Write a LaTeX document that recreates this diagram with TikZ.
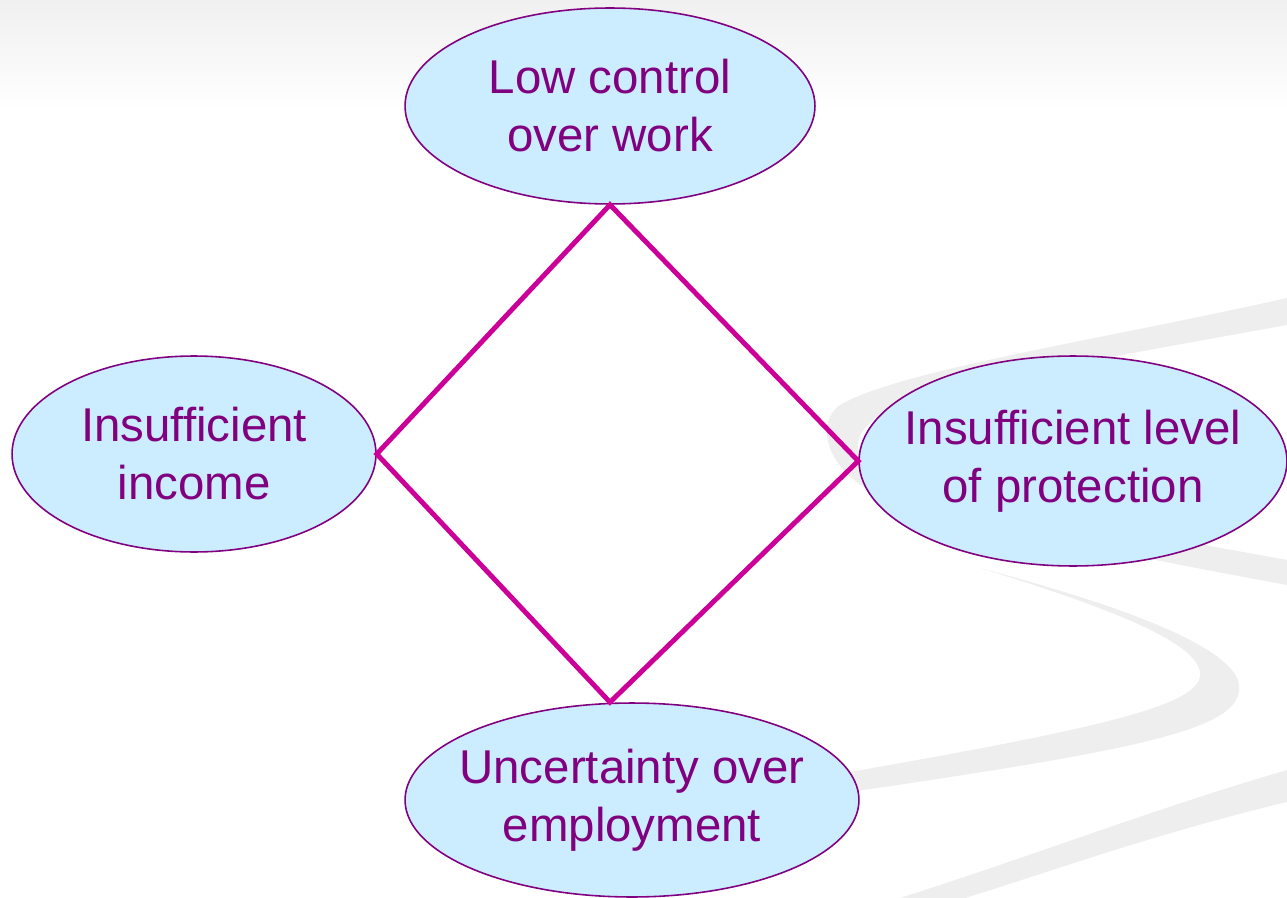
\documentclass[tikz,border=0pt]{standalone}
\usepackage{fontspec}
\setmainfont{Liberation Sans}
\usetikzlibrary{shapes.geometric}
\definecolor{bubblefill}{RGB}{204,236,255}
\definecolor{bubbleline}{RGB}{128,0,128}
\definecolor{diamondline}{RGB}{204,0,153}
\tikzset{
  bubble/.style={ellipse, draw=bubbleline, line width=0.9pt, fill=bubblefill,
    text=bubbleline, inner xsep=-1.4cm, inner ysep=-0.7cm, align=center,
    font=\fontsize{27}{33}\selectfont},
  swoosh/.style={fill=gray!13, draw=none}
}
\begin{document}
\begin{tikzpicture}[x=0.02cm, y=-0.02cm]
      \useasboundingbox (0,0) rectangle (1287,898);
      \shade[top color=gray!12, bottom color=white] (0,0) rectangle (1287,110);
      \fill[swoosh] (1287,298) .. controls (1100,340) and (900,370) .. (840,405)
        .. controls (812,425) and (830,475) .. (880,495)
        .. controls (1000,530) and (1150,560) .. (1287,585) -- (1287,560)
        .. controls (1150,535) and (950,500) .. (870,465)
        .. controls (845,450) and (860,420) .. (900,405)
        .. controls (1000,375) and (1150,350) .. (1287,325) -- cycle;
      \fill[swoosh] (980,568) .. controls (1100,600) and (1222,640) .. (1238,680)
        .. controls (1252,728) and (1150,748) .. (850,792) -- (850,772)
        .. controls (1100,728) and (1205,705) .. (1200,672)
        .. controls (1195,640) and (1100,605) .. (980,568) -- cycle;
      \fill[swoosh] (900,898) .. controls (1050,850) and (1150,810) .. (1287,770)
        -- (1287,802) .. controls (1150,835) and (1050,872) .. (965,898) -- cycle;
      \node[bubble, minimum width=8.2cm, minimum height=3.92cm] (low) at (610,106) {Low control\\over work};
      \node[bubble, minimum width=7.28cm, minimum height=3.92cm] (income) at (194,454) {Insufficient\\income};
      \node[bubble, minimum width=8.56cm, minimum height=4.2cm] (protect) at (1073,461) {Insufficient level\\of protection};
      \node[bubble, minimum width=9.08cm, minimum height=3.88cm] (employ) at (632,800) {Uncertainty over\\employment};
      \draw[diamondline, line width=2.8pt, line join=miter]
        (low.south) -- (income.east) -- (low.south |- employ.north)
        -- (protect.west) -- cycle;
    \end{tikzpicture}
\end{document}
